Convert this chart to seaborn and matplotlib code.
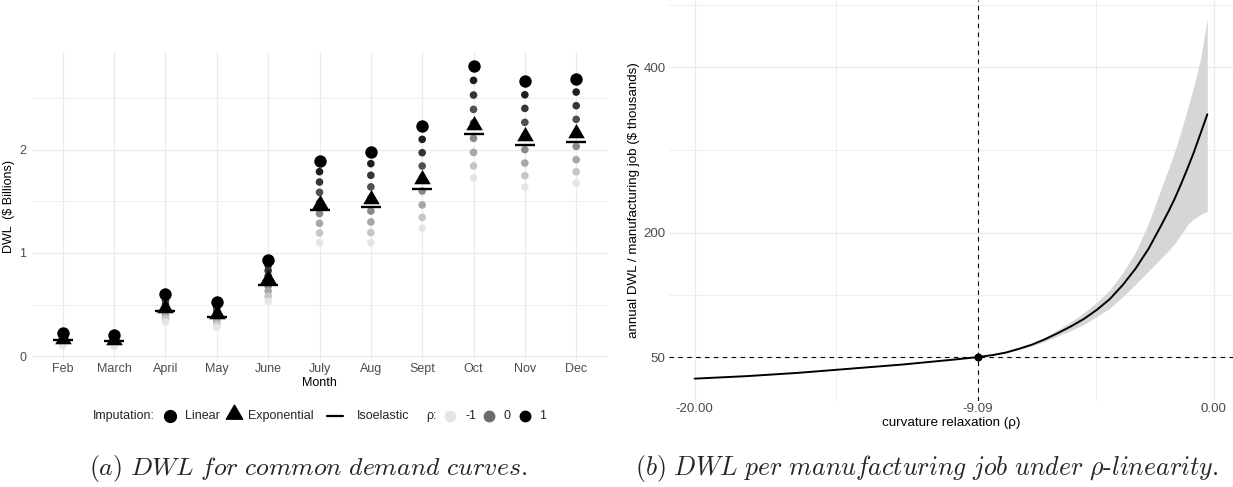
import numpy as np
import pandas as pd
import matplotlib
matplotlib.use("Agg")
import matplotlib.pyplot as plt
from matplotlib.lines import Line2D
from matplotlib.path import Path
import seaborn as sns

# ---------------- data: panel (a) ----------------
months = ["Feb", "March", "April", "May", "June", "July", "Aug", "Sept", "Oct", "Nov", "Dec"]
rho_levels = [1.0, 0.75, 0.5, 0.25, 0.0, -0.25, -0.5, -0.75, -1.0]
# DWL ($ billions) per month, one value per rho level (order of rho_levels)
dwl_feb = [0.226, 0.211, 0.196, 0.181, 0.166, 0.150, 0.135, 0.120, 0.105]
dwl_mar = [0.210, 0.196, 0.182, 0.168, 0.153, 0.139, 0.125, 0.110, 0.096]
dwl_apr = [0.607, 0.572, 0.538, 0.503, 0.468, 0.434, 0.399, 0.365, 0.330]
dwl_may = [0.530, 0.499, 0.468, 0.436, 0.405, 0.374, 0.343, 0.311, 0.280]
dwl_jun = [0.930, 0.880, 0.830, 0.780, 0.730, 0.680, 0.630, 0.580, 0.530]
dwl_jul = [1.887, 1.787, 1.687, 1.587, 1.487, 1.381, 1.287, 1.194, 1.100]
dwl_aug = [1.977, 1.865, 1.752, 1.640, 1.530, 1.406, 1.300, 1.197, 1.100]
dwl_sep = [2.226, 2.100, 1.971, 1.842, 1.730, 1.600, 1.465, 1.345, 1.239]
dwl_oct = [2.810, 2.671, 2.529, 2.390, 2.260, 2.110, 1.974, 1.842, 1.726]
dwl_nov = [2.665, 2.532, 2.400, 2.265, 2.140, 2.000, 1.871, 1.748, 1.639]
dwl_dec = [2.684, 2.558, 2.426, 2.294, 2.170, 2.032, 1.903, 1.787, 1.677]
linear_dwl = [0.226, 0.210, 0.607, 0.530, 0.930, 1.887, 1.977, 2.226, 2.810, 2.665, 2.684]
exponential_dwl = [0.170, 0.160, 0.470, 0.410, 0.750, 1.477, 1.520, 1.720, 2.240, 2.130, 2.160]
isoelastic_dwl = [0.155, 0.145, 0.440, 0.380, 0.690, 1.413, 1.445, 1.623, 2.155, 2.042, 2.074]

# ---------------- data: panel (b) ----------------
rho_grid = [-20, -19, -18, -17, -16, -15, -14, -13, -12, -11, -10, -9.09, -8.5, -8,
            -7.5, -7, -6.5, -6, -5.5, -5, -4.5, -4, -3.5, -3, -2.5, -2, -1.75,
            -1.5, -1.25, -1, -0.75, -0.5, -0.24]
dwl_per_job = [24, 25.5, 27, 29, 31, 33.5, 36, 38.5, 41, 44, 47, 50, 52.5, 55.5,
               60, 65, 71.5, 79, 87, 96, 107, 120, 137, 157, 181, 210, 225,
               241, 259, 278, 298, 320, 343]
band_rho = [-8.5, -8, -7.5, -7, -6.5, -6, -5.5, -5, -4.5, -4, -3.5, -3, -2.5, -2,
            -1.75, -1.5, -1.25, -1, -0.75, -0.5, -0.24]
band_lo = [52.3, 55, 59, 63.5, 69, 75.5, 82, 89.5, 99, 109, 123, 138, 154, 170,
           178, 187, 198, 210, 217, 222, 226]
band_hi = [52.7, 56, 61, 66.5, 74, 83, 92.5, 103.5, 116, 131, 152, 177, 212, 255,
           276, 298, 323, 350, 378, 410, 459]
rho_star, dwl_star = -9.09, 50
x_breaks = [-20.0, -9.09, 0.0]
x_labels = ["-20.00", "-9.09", "0.00"]
y_breaks = [50, 200, 400]

# ---------------- style helpers ----------------
W, H = 1233, 487
sns.set_theme(style="white")
plt.rcParams["font.family"] = ["Liberation Sans", "DejaVu Sans"]
plt.rcParams["mathtext.fontset"] = "cm"

GRID = "#ebebeb"
TICK = "#4d4d4d"


def grey_lab(t):
    """grey90 -> black interpolated in CIE L* (like ggplot gradients)."""
    L = 91.1 * (1 - t)
    fy = (L + 16) / 116
    Y = fy ** 3 if L > 8 else L / 903.3
    c = 12.92 * Y if Y <= 0.0031308 else 1.055 * Y ** (1 / 2.4) - 0.055
    return (c, c, c)


def rho_color(r):
    return grey_lab((r + 1) / 2)


tri = Path([(0, 1.155), (-1, -0.577), (1, -0.577), (0, 1.155)],
           [Path.MOVETO, Path.LINETO, Path.LINETO, Path.CLOSEPOLY])


def fx(px):
    return px / W


def fy_(py):
    return 1 - py / H


fig = plt.figure(figsize=(W / 100, H / 100), dpi=100)
fig.patch.set_facecolor("white")

# ================= panel (a) =================
ax = fig.add_axes([fx(32), fy_(361), (607 - 32) / W, (361 - 52) / H])
rows = []
series = [dwl_feb, dwl_mar, dwl_apr, dwl_may, dwl_jun, dwl_jul, dwl_aug, dwl_sep,
          dwl_oct, dwl_nov, dwl_dec]
for m, vals in zip(months, series):
    for r, v in zip(rho_levels, vals):
        rows.append({"month": m, "rho": r, "dwl": v})
df = pd.DataFrame(rows)
pal = {r: rho_color(r) for r in rho_levels}
sns.scatterplot(data=df, x="month", y="dwl", hue="rho", palette=pal, s=30,
                linewidth=0, legend=False, ax=ax, zorder=3)
sns.scatterplot(x=months, y=linear_dwl, color="black", s=80, linewidth=0,
                legend=False, ax=ax, zorder=4)
sns.scatterplot(x=months, y=exponential_dwl, color="black", marker=tri, s=190,
                linewidth=0, legend=False, ax=ax, zorder=5)
ax.scatter(months, isoelastic_dwl, color="black", marker="_", s=200,
           linewidths=1.7, zorder=6)

ax.set_xlim(-0.6, 10.6)
ax.set_ylim(-0.046, 2.946)
ax.set_yticks([0, 1, 2])
ax.set_yticklabels(["0", "1", "2"])
ax.set_yticks([0.5, 1.5, 2.5], minor=True)
ax.grid(which="major", color=GRID, lw=0.9)
ax.grid(which="minor", axis="y", color=GRID, lw=0.6)
ax.set_axisbelow(True)
for s in ax.spines.values():
    s.set_visible(False)
ax.tick_params(which="both", length=0)
ax.tick_params(axis="x", pad=1.5, labelsize=9, labelcolor=TICK)
ax.tick_params(axis="y", pad=4, labelsize=9, labelcolor=TICK)
ax.set_xlabel("Month", fontsize=9, labelpad=1.5, color="black")
ax.set_ylabel("DWL  ($ Billions)", fontsize=9, labelpad=3, color="black")

# legend (a)
ly = fy_(416)
fs = 9
fig.text(fx(93), ly, "Imputation:", fontsize=fs, va="center", ha="left")
fig.add_artist(Line2D([fx(170)], [ly], marker="o", ms=8.5, color="black", lw=0,
                      transform=fig.transFigure))
fig.text(fx(185), ly, "Linear", fontsize=fs, va="center", ha="left")
fig.add_artist(Line2D([fx(234)], [fy_(414)], marker=tri, ms=13.5, color="black", lw=0,
                      transform=fig.transFigure))
fig.text(fx(248), ly, "Exponential", fontsize=fs, va="center", ha="left")
fig.add_artist(Line2D([fx(327), fx(343)], [ly, ly], color="black", lw=1.6,
                      transform=fig.transFigure))
fig.text(fx(357), ly, "Isoelastic", fontsize=fs, va="center", ha="left")
fig.text(fx(426), ly, "\u03c1:", fontsize=fs, va="center", ha="left")
for xc, xt, r, lab in [(450, 465, -1.0, "-1"), (489, 503, 0.0, "0"), (525, 539, 1.0, "1")]:
    fig.add_artist(Line2D([fx(xc)], [ly], marker="o", ms=7.5, color=rho_color(r), lw=0,
                          transform=fig.transFigure))
    fig.text(fx(xt), ly, lab, fontsize=fs, va="center", ha="left")

# ================= panel (b) =================
ax2 = fig.add_axes([fx(669), fy_(401), (1233 - 669) / W, 401 / H])
ax2.fill_between(band_rho, band_lo, band_hi, color="#d6d6d6", lw=0, zorder=2)
sns.lineplot(x=rho_grid, y=dwl_per_job, color="black", lw=1.4, ax=ax2, zorder=3)
ax2.axvline(rho_star, color="black", lw=0.8, ls=(0, (4, 4)), zorder=4)
ax2.axhline(dwl_star, color="black", lw=0.8, ls=(0, (4, 4)), zorder=4)
sns.scatterplot(x=[rho_star], y=[dwl_star], color="black", s=34, linewidth=0,
                legend=False, ax=ax2, zorder=5)
ax2.set_xlim(-20.99, 0.75)
ax2.set_ylim(-3, 481)
ax2.set_xticks(x_breaks)
ax2.set_xticklabels(x_labels)
ax2.set_xticks([(x_breaks[0] + x_breaks[1]) / 2, (x_breaks[1] + x_breaks[2]) / 2], minor=True)
ax2.set_yticks(y_breaks)
ax2.set_yticklabels([str(v) for v in y_breaks])
ax2.set_yticks([125, 300, 475], minor=True)
ax2.grid(which="major", color=GRID, lw=0.9)
ax2.grid(which="minor", color=GRID, lw=0.6)
ax2.set_axisbelow(True)
for s in ax2.spines.values():
    s.set_visible(False)
ax2.tick_params(which="both", length=0)
ax2.tick_params(axis="x", pad=1.5, labelsize=9.6, labelcolor=TICK)
ax2.tick_params(axis="y", pad=2.5, labelsize=9.6, labelcolor=TICK)
ax2.set_xlabel("curvature relaxation (\u03c1)", fontsize=9.6, labelpad=1.5, color="black")
ax2.set_ylabel("annual DWL / manufacturing job ($ thousands)", fontsize=9.6,
               labelpad=2.5, color="black")

# captions
fig.text(fx(308), fy_(468), r"$(a)\ DWL\ for\ common\ demand\ curves.$",
         fontsize=18.5, ha="center", va="center")
fig.text(fx(927), fy_(468),
         r"$(b)\ DWL\ per\ manufacturing\ job\ under\ \rho\text{-}linearity.$",
         fontsize=18.6, ha="center", va="center")

fig.savefig("out.png", dpi=100, facecolor="white")
